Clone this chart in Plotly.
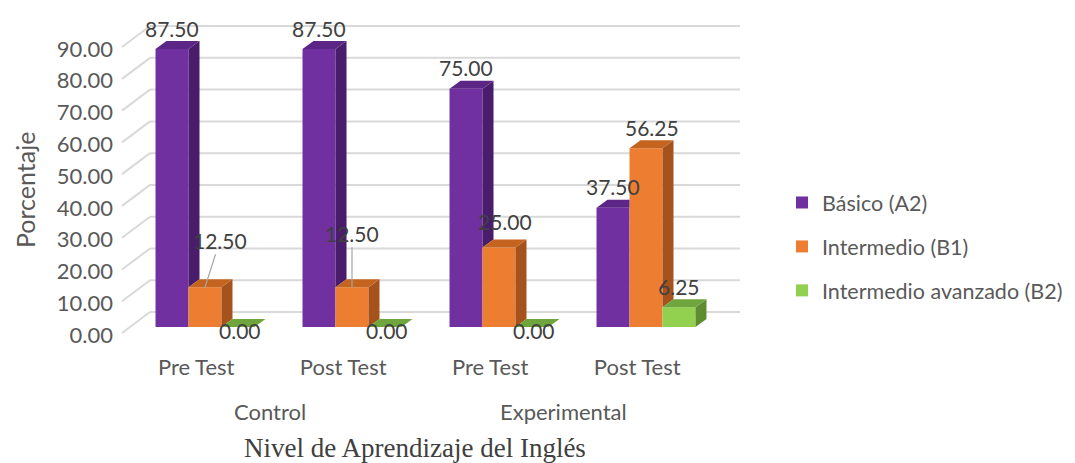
import plotly.graph_objects as go

# ---------------- data ----------------
categories = ["Pre Test", "Post Test", "Pre Test", "Post Test"]
groups = ["Control", "Experimental"]
series_names = ["Básico (A2)", "Intermedio (B1)", "Intermedio avanzado (B2)"]
basico = [87.50, 87.50, 75.00, 37.50]
intermedio = [12.50, 12.50, 25.00, 56.25]
avanzado = [0.00, 0.00, 0.00, 6.25]
y_ticks = [0, 10, 20, 30, 40, 50, 60, 70, 80, 90]

series = [basico, intermedio, avanzado]
front_colors = ["#7030A0", "#ED7D31", "#92D050"]
side_colors = ["#4A1D6C", "#A5521D", "#5E8C31"]
top_colors = ["#5B2686", "#C4641F", "#6FA53D"]

# ---------------- geometry (styling) ----------------
OFF = 8                      # page body margin of the html page
W, H = 1075 - OFF, 463 - OFF
def P(p):                    # reference pixel -> figure pixel
    return p - OFF

PL, PR, PT, PB = P(122), P(740), P(20), P(345)   # plot area in figure pixels
PX_PER_UNIT = 3.177
ZERO_PX = P(327)
X_SPACING_PX = 147
X0_PX = P(205)
ymin = -(PB - ZERO_PX) / PX_PER_UNIT
ymax = (ZERO_PX - PT) / PX_PER_UNIT
xmin = (PL - X0_PX) / X_SPACING_PX
xmax = (PR - X0_PX) / X_SPACING_PX
bargap = 0.327
bw = (1 - bargap) / 3
DX = 11 / X_SPACING_PX
DY = 8 / PX_PER_UNIT
BACK_SHIFT = 15 / PX_PER_UNIT
FRONT_LEFT = -6 / PX_PER_UNIT
LABEL_SHIFT = 2.5
WALL_FRAC = 28 / (PR - PL)
TXT = "#595959"
FONT = "Lato"

def fx(p):   # figure pixel -> paper x
    return (p - PL) / (PR - PL)
def fy(p):   # figure pixel -> paper y
    return (PB - p) / (PB - PT)

fig = go.Figure()

# front faces as real bars
for k, (name, vals) in enumerate(zip(series_names, series)):
    fig.add_trace(go.Bar(
        x=list(range(len(categories))), y=vals, name=name,
        marker=dict(color=front_colors[k], line=dict(width=0)),
        legendgroup=name, hoverinfo="skip"))

# 3D side and top faces, derived from the values
for i in range(len(categories)):
    for k in range(3):
        v = series[k][i]
        xl = i + (k - 1.5) * bw
        xr = xl + bw
        nxt = series[k + 1][i] if k < 2 else None
        if nxt is None or nxt < v:
            lo = 0 if nxt is None else nxt
            fig.add_trace(go.Scatter(
                x=[xr, xr + DX, xr + DX, xr, xr], y=[lo, lo + DY, v + DY, v, lo],
                fill="toself", fillcolor=side_colors[k], mode="lines",
                line=dict(width=0), showlegend=False, hoverinfo="skip"))
        if nxt is None or nxt <= v:
            xs = [xl, xl + DX, xr + DX, xr, xl]
        else:
            xs = [xl, xl + DX, xr, xr, xl]
        ys = [v, v + DY, v + DY, v, v]
        fig.add_trace(go.Scatter(
            x=xs, y=ys, fill="toself", fillcolor=top_colors[k], mode="lines",
            line=dict(width=0), showlegend=False, hoverinfo="skip"))

# gridlines on the back wall and the side wall
shapes = []
for t in y_ticks:
    shapes.append(dict(type="line", xref="paper", yref="y", layer="below",
                       x0=WALL_FRAC, x1=1, y0=t + BACK_SHIFT, y1=t + BACK_SHIFT,
                       line=dict(color="#D9D9D9", width=2)))
    shapes.append(dict(type="line", xref="paper", yref="y", layer="below",
                       x0=0, x1=WALL_FRAC, y0=t + FRONT_LEFT, y1=t + BACK_SHIFT,
                       line=dict(color="#D9D9D9", width=2)))

# data labels
ann = []
lab_font = dict(family=FONT, size=21, color="#404040")
special = {  # (series, category): (ax, ay) leader offsets in px
    (1, 0): (15, -47),
    (1, 1): (0, -54),
}
for k in range(3):
    for i in range(len(categories)):
        v = series[k][i]
        xc = i + (k - 1) * bw
        txt = f"{v:.2f}"
        if (k, i) in special:
            ax, ay = special[(k, i)]
            ann.append(dict(x=xc, y=v, xref="x", yref="y", text=txt, showarrow=True,
                            ax=ax, ay=ay, arrowhead=0, arrowwidth=1.2,
                            arrowcolor="#A6A6A6", font=lab_font, standoff=0))
        elif v == 0:
            ann.append(dict(x=xc, y=v, xref="x", yref="y", text=txt, showarrow=False,
                            yanchor="middle", yshift=-3, xshift=2, font=lab_font))
        elif k == 1 and i == 2:
            ann.append(dict(x=xc, y=v, xref="x", yref="y", text=txt, showarrow=False,
                            yanchor="middle", yshift=26, xshift=6, font=lab_font))
        else:
            ann.append(dict(x=xc, y=v + DY, xref="x", yref="y", text=txt, showarrow=False,
                            yanchor="middle", yshift=13, xshift=(6 if k == 1 else 0),
                            font=lab_font))

# group labels
for g, name in enumerate(groups):
    ann.append(dict(x=2 * g + 0.5 - 0.06, xref="x", y=fy(P(411)), yref="paper",
                    xanchor="center", yanchor="middle",
                    text=name, showarrow=False, font=dict(family=FONT, size=22, color=TXT)))
# axis titles
ann.append(dict(x=fx(P(415)), xref="paper", y=fy(P(448)), yref="paper",
                xanchor="center", yanchor="middle",
                text="Nivel de Aprendizaje del Inglés", showarrow=False,
                font=dict(family="Liberation Serif", size=27, color="#404040")))
ann.append(dict(x=fx(P(25)), xref="paper", y=fy(P(190)), yref="paper",
                xanchor="center", yanchor="middle", borderpad=0,
                text="Porcentaje", textangle=-90, showarrow=False,
                font=dict(family=FONT, size=25, color=TXT)))

fig.update_layout(
    width=W, height=H, autosize=False,
    margin=dict(l=PL, r=W - PR, t=PT, b=H - PB, pad=0),
    paper_bgcolor="white", plot_bgcolor="rgba(0,0,0,0)",
    barmode="group", bargap=bargap, bargroupgap=0,
    shapes=shapes, annotations=ann,
    xaxis=dict(range=[xmin, xmax], tickvals=[i - 0.06 for i in range(len(categories))],
               ticktext=categories, showgrid=False, zeroline=False, showline=False,
               ticks="", ticklabelstandoff=7, automargin=False,
               tickfont=dict(family=FONT, size=22, color=TXT)),
    yaxis=dict(range=[ymin, ymax], showgrid=False, zeroline=False,
               showticklabels=False, showline=False, automargin=False),
    yaxis2=dict(range=[ymin + LABEL_SHIFT, ymax + LABEL_SHIFT], overlaying="y", side="left",
                anchor="x", tickvals=y_ticks, ticktext=[f"{t:.2f}" for t in y_ticks],
                showgrid=False, zeroline=False, showline=False, ticks="", automargin=False,
                ticklabelstandoff=8,
                tickfont=dict(family=FONT, size=22, color=TXT)),
    legend=dict(xref="container", yref="container", x=P(782) / W, y=1 - P(182) / H,
                xanchor="left", yanchor="top", font=dict(family=FONT, size=21.5, color=TXT),
                tracegroupgap=13, itemwidth=30),
    showlegend=True,
)
fig.add_trace(go.Scatter(x=[None], y=[None], yaxis="y2", showlegend=False, hoverinfo="skip"))

fig.write_html("out.html")
